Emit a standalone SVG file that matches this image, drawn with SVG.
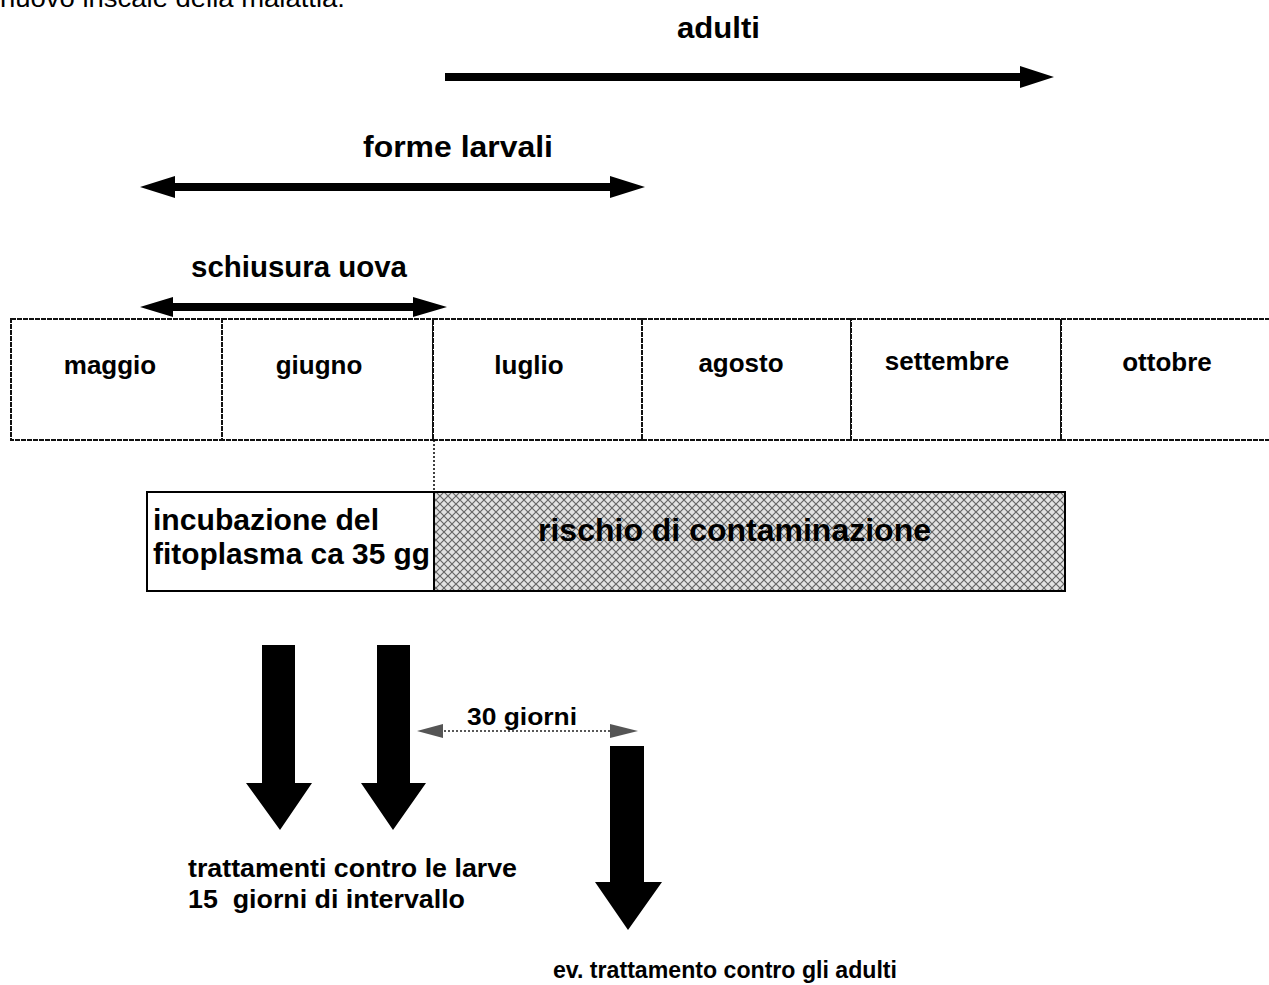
<svg xmlns="http://www.w3.org/2000/svg" width="1269" height="985" viewBox="0 0 1269 985">
<style>
text{font-family:"Liberation Sans",Arial,sans-serif;font-weight:bold;fill:#000}
.reg{font-weight:normal}
.lbl{font-size:30px}
.mon{font-size:26px}
.cell{fill:#fff;stroke:#111;stroke-width:2;stroke-dasharray:5 1}
.arr{fill:#000}
.box{stroke:#000;stroke-width:2}
</style>
<defs>
<pattern id="hatch" width="8" height="8" patternUnits="userSpaceOnUse">
<rect width="8" height="8" fill="#e2e2e2"/>
<path d="M0 0L8 8M8 0L0 8" stroke="#666" stroke-width="1.2"/>
</pattern>
</defs>
<text class="reg" x="0" y="7" font-size="26" textLength="345" lengthAdjust="spacingAndGlyphs">nuovo inscale della malattia.</text>
<g id="adulti">
<text class="lbl" x="677" y="38" textLength="83" lengthAdjust="spacingAndGlyphs">adulti</text>
</g>
<g id="forme-larvali">
<text class="lbl" x="363" y="157" textLength="190" lengthAdjust="spacingAndGlyphs">forme larvali</text>
</g>
<g id="schiusura-uova">
<text class="lbl" x="191" y="277" textLength="216" lengthAdjust="spacingAndGlyphs">schiusura uova</text>
</g>
<g id="calendar">
<rect class="cell" x="11" y="319" width="211" height="121"/>
<rect class="cell" x="222" y="319" width="211" height="121"/>
<rect class="cell" x="433" y="319" width="209" height="121"/>
<rect class="cell" x="642" y="319" width="209" height="121"/>
<rect class="cell" x="851" y="319" width="210" height="121"/>
<rect class="cell" x="1061" y="319" width="212" height="121"/>
<text class="mon" x="110" y="374" text-anchor="middle">maggio</text>
<text class="mon" x="319" y="374" text-anchor="middle">giugno</text>
<text class="mon" x="529" y="374" text-anchor="middle">luglio</text>
<text class="mon" x="741" y="372" text-anchor="middle">agosto</text>
<text class="mon" x="947" y="370" text-anchor="middle">settembre</text>
<text class="mon" x="1167" y="371" text-anchor="middle">ottobre</text>
</g>
<g id="incubazione">
<rect class="box" x="147" y="492" width="287" height="99" fill="#fff"/>
<text x="153" y="530" font-size="29" textLength="226" lengthAdjust="spacingAndGlyphs">incubazione del</text>
<text x="153" y="564" font-size="29" textLength="277" lengthAdjust="spacingAndGlyphs">fitoplasma ca 35 gg</text>
</g>
<g id="rischio">
<rect class="box" x="434" y="492" width="631" height="99" fill="url(#hatch)"/>
<text x="538" y="541" font-size="31" textLength="393" lengthAdjust="spacingAndGlyphs">rischio di contaminazione</text>
</g>
<g id="trattamenti-larve">
<text x="188" y="877" font-size="25" textLength="329" lengthAdjust="spacingAndGlyphs">trattamenti contro le larve</text>
<text x="188" y="908" font-size="25" textLength="277" lengthAdjust="spacingAndGlyphs" style="white-space:pre">15  giorni di intervallo</text>
</g>
<g id="trattamento-adulti">
<text x="553" y="978" font-size="24" textLength="344" lengthAdjust="spacingAndGlyphs">ev. trattamento contro gli adulti</text>
</g>
<g id="connectors">
<path class="arr" d="M445 73H1020V66L1054 77L1020 88V81H445Z"/>
<path class="arr" d="M140 187L175 176V183H610V176L645 187L610 198V191H175V198Z"/>
<path class="arr" d="M140 307L173 297V303H413V297L447 307L413 317V311H173V317Z"/>
<line x1="434" y1="440" x2="434" y2="492" stroke="#000" stroke-width="1.5" stroke-dasharray="2 2"/>
<path class="arr" d="M262 645H295V783H312L280 830L246 783H262Z"/>
<path class="arr" d="M377 645H410V783H426L393 830L361 783H377Z"/>
<path class="arr" d="M610 746H644V882H662L628 930L595 882H610Z"/>
<line x1="440" y1="731" x2="612" y2="731" stroke="#222" stroke-width="1.5" stroke-dasharray="2 2"/>
<path d="M417 731L443 724V738Z" fill="#555"/>
<path d="M638 731L610 724V738Z" fill="#555"/>
<text x="467" y="725" font-size="23" textLength="110" lengthAdjust="spacingAndGlyphs">30 giorni</text>
</g>
</svg>
